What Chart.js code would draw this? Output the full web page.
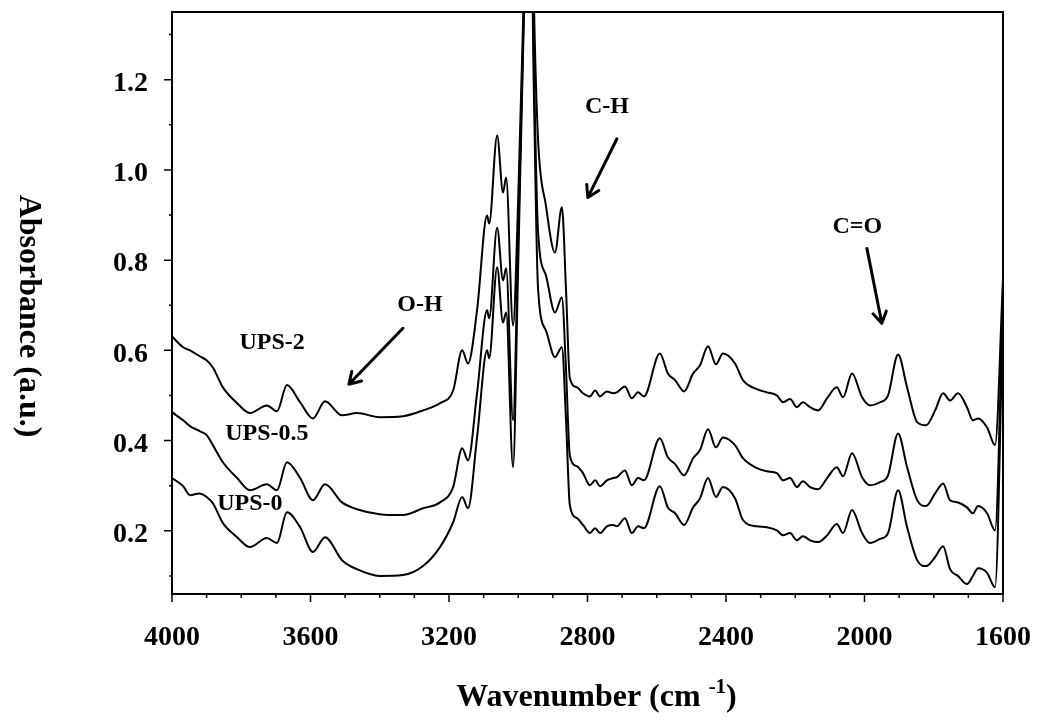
<!DOCTYPE html>
<html>
<head>
<meta charset="utf-8">
<title>FTIR spectra UPS</title>
<script src="https://cdn.jsdelivr.net/npm/chart.js@4.4.1/dist/chart.umd.min.js"></script>
<style>
  html, body { margin: 0; padding: 0; background: #fff; }
  canvas { display: block; }
</style>
</head>
<body>
<canvas id="ftirChart" width="1037" height="721"></canvas>
<script>
// wavenumber grid (cm-1), shared by the three spectra
const wavenumbers = [4000, 3968, 3948, 3920, 3900, 3882, 3853, 3812, 3775, 3726, 3697, 3668, 3630, 3593, 3558, 3509, 3466, 3400, 3333, 3275,
    3226, 3188, 3162, 3145, 3119, 3090, 3084, 3061, 3044, 3035, 3015, 3001, 2983, 2966, 2955, 2943, 2920, 2894, 2874, 2862,
    2851, 2830, 2813, 2793, 2778, 2764, 2744, 2726, 2715, 2692, 2672, 2654, 2637, 2591, 2568, 2547, 2521, 2495, 2475, 2452,
    2429, 2409, 2374, 2351, 2311, 2282, 2253, 2235, 2215, 2195, 2178, 2157, 2134, 2108, 2080, 2062, 2036, 2007, 1984, 1955,
    1932, 1903, 1877, 1848, 1822, 1796, 1773, 1753, 1730, 1704, 1687, 1672, 1646, 1623, 1600];

// absorbance (a.u.)
const ups2 = [0.631, 0.607, 0.600, 0.587, 0.578, 0.562, 0.518, 0.483, 0.461, 0.478, 0.465, 0.523, 0.485, 0.449, 0.487, 0.456, 0.461, 0.452, 0.454, 0.467,
    0.483, 0.511, 0.600, 0.571, 0.689, 0.899, 0.881, 1.076, 0.950, 0.983, 0.655, 0.914, 1.420, 1.900, 1.380, 1.071, 0.921, 0.817, 0.917, 0.733,
    0.538, 0.518, 0.505, 0.498, 0.511, 0.498, 0.509, 0.505, 0.507, 0.520, 0.494, 0.507, 0.498, 0.593, 0.549, 0.534, 0.509, 0.549, 0.567, 0.609,
    0.569, 0.593, 0.571, 0.534, 0.514, 0.507, 0.500, 0.485, 0.492, 0.474, 0.485, 0.474, 0.467, 0.494, 0.518, 0.496, 0.549, 0.496, 0.478, 0.485,
    0.500, 0.591, 0.518, 0.441, 0.434, 0.467, 0.505, 0.489, 0.505, 0.474, 0.445, 0.449, 0.429, 0.390, 0.760];

const ups05 = [0.463, 0.445, 0.432, 0.421, 0.412, 0.390, 0.352, 0.317, 0.290, 0.303, 0.290, 0.352, 0.317, 0.268, 0.303, 0.263, 0.248, 0.237, 0.235, 0.250,
    0.263, 0.297, 0.383, 0.356, 0.505, 0.689, 0.671, 0.872, 0.755, 0.782, 0.445, 0.820, 1.380, 1.800, 1.250, 0.866, 0.766, 0.684, 0.717, 0.556,
    0.367, 0.343, 0.328, 0.301, 0.312, 0.299, 0.312, 0.317, 0.319, 0.334, 0.301, 0.317, 0.312, 0.405, 0.363, 0.348, 0.323, 0.361, 0.379, 0.425,
    0.385, 0.407, 0.390, 0.361, 0.339, 0.332, 0.328, 0.312, 0.317, 0.297, 0.310, 0.297, 0.292, 0.317, 0.341, 0.321, 0.372, 0.319, 0.301, 0.308,
    0.323, 0.416, 0.341, 0.268, 0.255, 0.283, 0.305, 0.268, 0.263, 0.252, 0.239, 0.255, 0.239, 0.201, 0.720];

const ups0 = [0.317, 0.299, 0.279, 0.283, 0.275, 0.261, 0.217, 0.186, 0.164, 0.184, 0.173, 0.241, 0.208, 0.153, 0.186, 0.135, 0.115, 0.100, 0.102, 0.122,
    0.164, 0.219, 0.275, 0.250, 0.407, 0.600, 0.582, 0.784, 0.662, 0.684, 0.341, 0.760, 1.360, 1.700, 1.180, 0.740, 0.644, 0.585, 0.607, 0.445,
    0.257, 0.228, 0.213, 0.195, 0.206, 0.195, 0.210, 0.213, 0.210, 0.228, 0.195, 0.210, 0.206, 0.299, 0.252, 0.239, 0.213, 0.252, 0.272, 0.317,
    0.275, 0.297, 0.272, 0.224, 0.210, 0.208, 0.201, 0.190, 0.195, 0.179, 0.188, 0.179, 0.175, 0.190, 0.215, 0.195, 0.246, 0.195, 0.173, 0.182,
    0.195, 0.290, 0.208, 0.135, 0.122, 0.142, 0.166, 0.115, 0.100, 0.082, 0.100, 0.117, 0.107, 0.075, 0.680];

// ticks
const xTickValues = [4000, 3600, 3200, 2800, 2400, 2000, 1600];
const xMinorTicks = [3900, 3800, 3700, 3500, 3400, 3300, 3100, 3000, 2900, 2700, 2600, 2500, 2300, 2200, 2100, 1900, 1800, 1700];
const yTickValues = [0.2, 0.4, 0.6, 0.8, 1.0, 1.2];
const yMinorTicks = [0.1, 0.3, 0.5, 0.7, 0.9, 1.1, 1.3];

// sample labels and band labels, placed in data units [wavenumber, absorbance]
const sampleLabels = [
    { text: 'UPS-2', at: [3711, 0.616] },
    { text: 'UPS-0.5', at: [3726, 0.414] },
    { text: 'UPS-0', at: [3775, 0.261] }
];
const bandLabels = [
    { text: 'O-H', at: [3284, 0.701], from: [3333, 0.649], to: [3489, 0.525] },
    { text: 'C-H', at: [2744, 1.140], from: [2715, 1.069], to: [2799, 0.939] },
    { text: 'C=O', at: [2021, 0.875], from: [1993, 0.826], to: [1950, 0.660] }
];

const serif = "'Liberation Serif', 'Times New Roman', serif";

function toPoints(values) {
    return values.map((v, i) => ({ x: wavenumbers[i], y: v }));
}

function drawArrow(ctx, x1, y1, x2, y2) {
    const ang = Math.atan2(y2 - y1, x2 - x1);
    const head = 13;
    ctx.beginPath();
    ctx.moveTo(x1, y1);
    ctx.lineTo(x2, y2);
    ctx.moveTo(x2 - head * Math.cos(ang - 0.55), y2 - head * Math.sin(ang - 0.55));
    ctx.lineTo(x2, y2);
    ctx.lineTo(x2 - head * Math.cos(ang + 0.55), y2 - head * Math.sin(ang + 0.55));
    ctx.stroke();
}

// frame, tick marks, tick labels, axis titles and annotations
const decorations = {
    id: 'decorations',
    afterDraw(chart) {
        const { ctx, chartArea: a, scales: { x, y } } = chart;
        ctx.save();
        ctx.strokeStyle = '#000';
        ctx.fillStyle = '#000';

        ctx.lineWidth = 2;
        ctx.strokeRect(a.left, a.top, a.right - a.left, a.bottom - a.top);

        ctx.lineWidth = 1.5;
        ctx.beginPath();
        xTickValues.forEach(v => { const px = x.getPixelForValue(v); ctx.moveTo(px, a.bottom); ctx.lineTo(px, a.bottom + 8); });
        xMinorTicks.forEach(v => { const px = x.getPixelForValue(v); ctx.moveTo(px, a.bottom); ctx.lineTo(px, a.bottom + 4); });
        yTickValues.forEach(v => { const py = y.getPixelForValue(v); ctx.moveTo(a.left, py); ctx.lineTo(a.left - 8, py); });
        yMinorTicks.forEach(v => { const py = y.getPixelForValue(v); ctx.moveTo(a.left, py); ctx.lineTo(a.left - 3, py); });
        ctx.stroke();

        // tick labels
        ctx.font = 'bold 28px ' + serif;
        ctx.textBaseline = 'middle';
        ctx.textAlign = 'right';
        yTickValues.forEach(v => ctx.fillText(v.toFixed(1), a.left - 24, y.getPixelForValue(v) + 4));
        ctx.textAlign = 'center';
        xTickValues.forEach(v => ctx.fillText(String(v), x.getPixelForValue(v), a.bottom + 44));

        // y title, reading top to bottom
        ctx.save();
        ctx.translate(28, (a.top + a.bottom) / 2 + 13);
        ctx.rotate(Math.PI / 2);
        ctx.font = 'bold 32px ' + serif;
        ctx.textAlign = 'center';
        ctx.textBaseline = 'middle';
        ctx.fillText('Absorbance (a.u.)', 0, 0);
        ctx.restore();

        // x title with superscript
        const main1 = 'Wavenumber (cm ', sup = '-1', main2 = ')';
        ctx.textBaseline = 'alphabetic';
        ctx.textAlign = 'left';
        ctx.font = 'bold 32px ' + serif;
        const w1 = ctx.measureText(main1).width, w3 = ctx.measureText(main2).width;
        ctx.font = 'bold 21px ' + serif;
        const w2 = ctx.measureText(sup).width;
        let tx = (a.left + a.right) / 2 + 9 - (w1 + w2 + w3) / 2;
        const base = 706;
        ctx.font = 'bold 32px ' + serif;
        ctx.fillText(main1, tx, base);
        tx += w1;
        ctx.font = 'bold 21px ' + serif;
        ctx.fillText(sup, tx, base - 13);
        tx += w2;
        ctx.font = 'bold 32px ' + serif;
        ctx.fillText(main2, tx, base);

        // labels
        ctx.font = 'bold 24px ' + serif;
        ctx.textAlign = 'center';
        ctx.textBaseline = 'middle';
        sampleLabels.forEach(l => ctx.fillText(l.text, x.getPixelForValue(l.at[0]), y.getPixelForValue(l.at[1])));
        bandLabels.forEach(l => ctx.fillText(l.text, x.getPixelForValue(l.at[0]), y.getPixelForValue(l.at[1])));

        ctx.lineWidth = 3;
        ctx.lineCap = 'round';
        ctx.lineJoin = 'round';
        bandLabels.forEach(l => drawArrow(ctx,
            x.getPixelForValue(l.from[0]), y.getPixelForValue(l.from[1]),
            x.getPixelForValue(l.to[0]), y.getPixelForValue(l.to[1])));
        ctx.restore();
    }
};

function lineSet(label, values) {
    return {
        label: label,
        data: toPoints(values),
        borderColor: '#000',
        borderWidth: 2,
        pointRadius: 0,
        fill: false,
        cubicInterpolationMode: 'monotone'
    };
}

const ctx = document.getElementById('ftirChart').getContext('2d');
new Chart(ctx, {
    type: 'line',
    data: {
        datasets: [
            lineSet('UPS-2', ups2),
            lineSet('UPS-0.5', ups05),
            lineSet('UPS-0', ups0)
        ]
    },
    options: {
        responsive: false,
        animation: false,
        events: [],
        layout: { padding: { top: 12, right: 34, left: 0, bottom: 0 } },
        plugins: {
            legend: { display: false },
            tooltip: { enabled: false }
        },
        scales: {
            x: {
                type: 'linear',
                reverse: true,
                min: 1600,
                max: 4000,
                grid: { display: false, drawTicks: false },
                border: { display: false },
                ticks: { display: false },
                afterFit: s => { s.height = 127; }
            },
            y: {
                type: 'linear',
                min: 0.06,
                max: 1.35,
                grid: { display: false, drawTicks: false },
                border: { display: false },
                ticks: { display: false },
                afterFit: s => { s.width = 172; }
            }
        }
    },
    plugins: [decorations]
});
</script>
</body>
</html>
